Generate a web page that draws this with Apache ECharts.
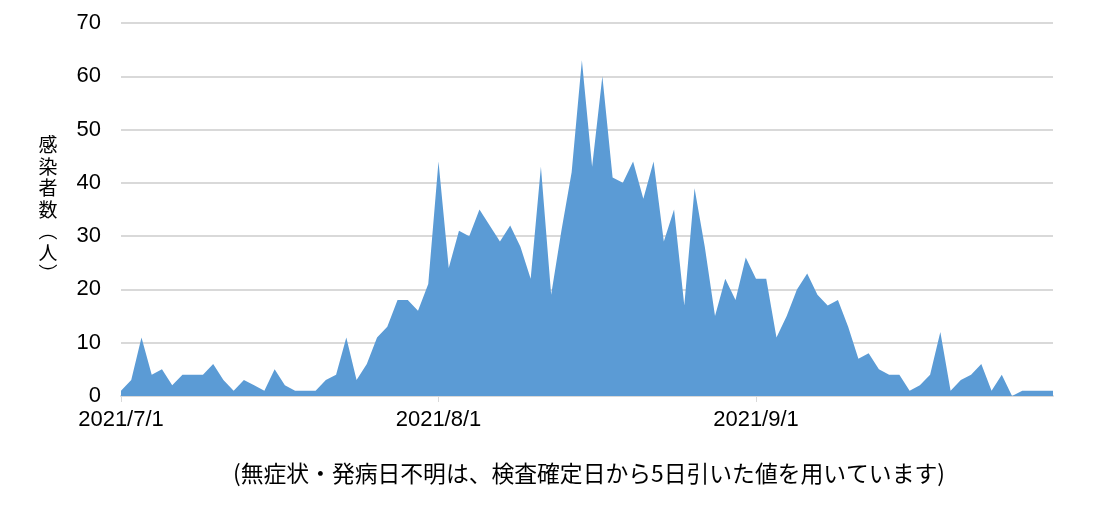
<!DOCTYPE html>
<html><head><meta charset="utf-8">
<script src="https://cdn.jsdelivr.net/npm/echarts@6/dist/echarts.min.js"></script>
<style>html,body{margin:0;padding:0;background:#fff}#c{width:1120px;height:506px}</style>
</head><body><div id="c"></div>
<script>
// Months covered and their lengths (category axis: one entry per day)
const months = [7, 8, 9];
const monthDays = [31, 31, 30];
const categories = [];
months.forEach((m, i) => { for (let d = 1; d <= monthDays[i]; d++) categories.push('2021/' + m + '/' + d); });

// Daily infections
const julyValues = [1,3,11,4,5,2,4,4,4,6,3,1,3,2,1,5,2,1,1,1,3,4,11,3,6,11,13,18,18,16,21];
const augValues  = [44,24,31,30,35,32,29,32,28,22,43,19,31,42,63,43,60,41,40,44,37,44,29,35,17,39,28,15,22,18,26];
const sepValues  = [22,22,11,15,20,23,19,17,18,13,7,8,5,4,4,1,2,4,12,1,3,4,6,1,4,0,1,1,1,1];
const values = julyValues.concat(augValues, sepValues);

const yTicks = [0,10,20,30,40,50,60,70];
const yAxisTitle = '感染者数︵人︶';
const note = '(無症状・発病日不明は、検査確定日から5日引いた値を用いています)';

const isMonthStart = (idx, val) => /\/1$/.test(val);

const chart = echarts.init(document.getElementById('c'));
chart.setOption({
  animation: false,
  grid: { left: 121, right: 67, top: 23, bottom: 110, containLabel: false },
  xAxis: {
    type: 'category', data: categories, boundaryGap: false,
    axisLine: { lineStyle: { color: '#d9d9d9', width: 2 } },
    axisTick: { show: true, interval: isMonthStart, length: 6, lineStyle: { color: '#d9d9d9', width: 1 } },
    axisLabel: { interval: isMonthStart, color: '#000', fontSize: 22, fontFamily: 'Liberation Sans', margin: 13 },
    splitLine: { show: false }
  },
  yAxis: {
    type: 'value', min: yTicks[0], max: yTicks[yTicks.length-1], interval: 10,
    name: yAxisTitle.split('').join('\n'), nameLocation: 'middle', nameRotate: 0, nameGap: 73,
    nameTextStyle: { color: '#000', fontSize: 19, lineHeight: 21.5, fontFamily: 'Noto Sans CJK JP', align: 'center', verticalAlign: 'middle', padding: [0, 0, 8, 0] },
    axisLine: { show: false }, axisTick: { show: false },
    axisLabel: { color: '#000', fontSize: 22, fontFamily: 'Liberation Sans', margin: 20 },
    splitLine: { lineStyle: { color: '#d9d9d9', width: 2 } }
  },
  title: {
    text: note, left: 228, top: 457,
    textStyle: { color: '#000', fontSize: 22.8, fontWeight: 'normal', fontFamily: 'Noto Sans CJK JP' }
  },
  series: [{
    type: 'line', data: values, symbol: 'none',
    lineStyle: { width: 0 }, areaStyle: { color: '#5b9bd5', opacity: 1 }, itemStyle: { color: '#5b9bd5' }
  }]
});
</script></body></html>
